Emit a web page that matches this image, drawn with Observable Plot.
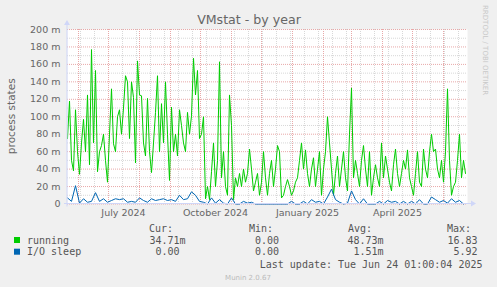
<!DOCTYPE html>
<html><head><meta charset="utf-8">
<script src="https://cdn.jsdelivr.net/npm/d3@7"></script>
<script src="https://cdn.jsdelivr.net/npm/@observablehq/plot@0.6"></script>
<style>html,body{margin:0;padding:0;background:#F0F0F0;}</style>
</head><body><div id="chart"></div>
<script>
const title = "VMstat - by year";
const yLabel = "process states";
const startDate = "2024-05-21";
const endDate = "2025-06-25";
const runningStart = "2024-05-21";
const runningStepDays = 2;
const running = [
75,118,50,38,108,60,34,70,97,60,125,45,177,70,153,37,60,67,80,50,
25,80,132,69,60,100,108,80,110,147,140,75,140,122,47,164,125,124,70,55,
121,60,36,70,105,147,60,115,70,140,80,27,111,60,80,55,108,90,70,60,
105,80,101,167,125,153,75,80,100,6,20,5,37,70,20,50,163,30,60,20,
10,125,90,5,30,20,35,20,40,25,35,63,40,15,25,35,10,25,60,30,
10,35,50,20,40,67,60,7,10,20,28,20,10,15,25,30,50,70,40,62,
35,20,40,53,20,40,60,10,40,60,100,70,40,10,35,55,20,40,60,30,
15,80,133,30,50,35,20,50,67,40,20,60,10,30,45,30,20,70,30,55,
40,25,15,45,63,35,20,35,50,40,62,30,20,10,35,60,25,20,63,40,
30,60,80,60,63,40,30,50,25,60,132,50,10,20,25,50,80,30,50,35
];
const ioStart = "2024-05-21";
const ioStepDays = 4;
const ioSleep = [
7,3,21,1,6,2,3,13,3,6,2,4,6,5,6,2,3,2,7,4,
2,6,4,5,6,4,5,3,10,5,6,14,10,3,2,0,7,1,5,1,
0,7,0,0,3,1,2,0,0,0,0,0,0,0,0,0,3,0,0,3,
0,5,2,3,0,8,17,5,2,0,1,15,5,0,6,0,0,0,3,0,
4,2,3,0,3,0,3,0,5,0,0,8,5,2,4,1,6,2,4,0
];
const yTicks = [0,20,40,60,80,100,120,140,160,180,200];
const yMinor = [10,30,50,70,90,110,130,150,170,190];
const monthLabelTexts = ["July 2024","October 2024","January 2025","April 2025"];
const monthLabelDates = ["2024-07-16","2024-10-16","2025-01-16","2025-04-16"];
const seriesNames = ["running","I/O sleep"];
const seriesColors = ["#00CC00","#0066B3"];
const curValues = ["34.71m","0.00"];
const minValues = ["0.00","0.00"];
const avgValues = ["48.73m","1.51m"];
const maxValues = ["16.83","5.92"];
const lastUpdate = "Last update: Tue Jun 24 01:00:04 2025";
const munin = "Munin 2.0.67";
const rrd = "RRDTOOL / TOBI OETIKER";

const day = 864e5;
const t0 = new Date(startDate), t1 = new Date(endDate);
const runData = running.map((v,i)=>({date:new Date(+new Date(runningStart)+i*runningStepDays*day), v}));
const ioData = ioSleep.map((v,i)=>({date:new Date(+new Date(ioStart)+i*ioStepDays*day), v}));
const months = d3.utcMonth.range(t0, t1);
const biweeks = d3.utcDay.range(new Date("2024-06-03"), t1, 14);
const labels = monthLabelDates.map((d,i)=>({date:new Date(d), text:monthLabelTexts[i]}));

const plot = Plot.plot({
  width: 497, height: 287,
  marginLeft: 67, marginRight: 30, marginTop: 29, marginBottom: 83.5,
  style: {background:"#F0F0F0", color:"#666", fontFamily:"DejaVu Sans", fontSize:"9.5px"},
  x: {type:"utc", domain:[t0,t1], axis:null},
  y: {domain:[0,200]},
  marks: [
    Plot.frame({fill:"white", stroke:null}),
    Plot.ruleY(yMinor, {stroke:"#d8d8d8", strokeDasharray:"1,1"}),
    Plot.ruleX(biweeks, {stroke:"#d8d8d8", strokeDasharray:"1,1"}),
    Plot.ruleY(yTicks, {stroke:"#e8a8a8", strokeDasharray:"1,1"}),
    Plot.ruleX(months, {stroke:"#e8a8a8", strokeDasharray:"1,1"}),
    Plot.line(runData, {x:"date", y:"v", stroke:seriesColors[0], strokeWidth:1}),
    Plot.line(ioData, {x:"date", y:"v", stroke:seriesColors[1], strokeWidth:1}),
    Plot.axisY(yTicks, {tickSize:0, tickPadding:7, tickFormat:d=> d===0 ? "0" : d+" m", label:null, fill:"#666"}),
    Plot.text(labels, {x:"date", text:"text", frameAnchor:"bottom", dy:9, lineAnchor:"middle", fill:"#666", fontSize:9.5})
  ]
});
document.getElementById("chart").appendChild(plot);

const svg = d3.select(plot);
const xs = plot.scale("x"), ys = plot.scale("y");
const xl = xs.range[0], xr = xs.range[1], yb = ys.range[0], yt = ys.range[1];
const axisColor = "#CFD6F8";
svg.append("line").attr("x1",xl).attr("x2",xl).attr("y1",yb+3).attr("y2",yt-5).attr("stroke",axisColor);
svg.append("line").attr("x1",xl-3).attr("x2",xr+5).attr("y1",yb).attr("y2",yb).attr("stroke",axisColor);
svg.append("path").attr("d",`M${xl-3},${yt-4}L${xl+3},${yt-4}L${xl},${yt-9}Z`).attr("fill",axisColor);
svg.append("path").attr("d",`M${xr+4},${yb-3}L${xr+4},${yb+3}L${xr+9},${yb}Z`).attr("fill",axisColor);

svg.append("text").attr("x",249).attr("y",24).attr("text-anchor","middle")
  .attr("font-family","DejaVu Sans").attr("font-size",12.6).attr("fill","#666").text(title);
svg.append("text").attr("transform",`translate(15,${(yt+yb)/2}) rotate(-90)`).attr("text-anchor","middle")
  .attr("font-family","DejaVu Sans").attr("font-size",10.5).attr("fill","#666").text(yLabel);
svg.append("text").attr("transform",`translate(483,5) rotate(90)`).attr("text-anchor","start")
  .attr("font-family","DejaVu Sans").attr("font-size",7).attr("fill","#c8c8c8").text(rrd);

const mono = "DejaVu Sans Mono";
function t(x,y,s,anchor,size,fill){
  svg.append("text").attr("x",x).attr("y",y).attr("text-anchor",anchor||"start")
    .attr("font-family",mono).attr("font-size",size||10).attr("fill",fill||"#555").text(s);
}
t(149,231.5,"Cur:"); t(249,231.5,"Min:"); t(348,231.5,"Avg:"); t(447,231.5,"Max:");
const rowsY = [243.5,255.2];
seriesNames.forEach((n,i)=>{
  svg.append("rect").attr("x",14).attr("y",rowsY[i]-6.5).attr("width",6).attr("height",6).attr("fill",seriesColors[i]);
  t(27,rowsY[i],n);
  t(i===0?185.5:179.5,rowsY[i],curValues[i],"end");
  t(279,rowsY[i],minValues[i],"end");
  t(383.5,rowsY[i],avgValues[i],"end");
  t(477.5,rowsY[i],maxValues[i],"end");
});
t(482.5,267.5,lastUpdate,"end");
svg.append("text").attr("x",248).attr("y",279.5).attr("text-anchor","middle")
  .attr("font-family","DejaVu Sans").attr("font-size",7).attr("fill","#bbbbbb").text(munin);
</script></body></html>
